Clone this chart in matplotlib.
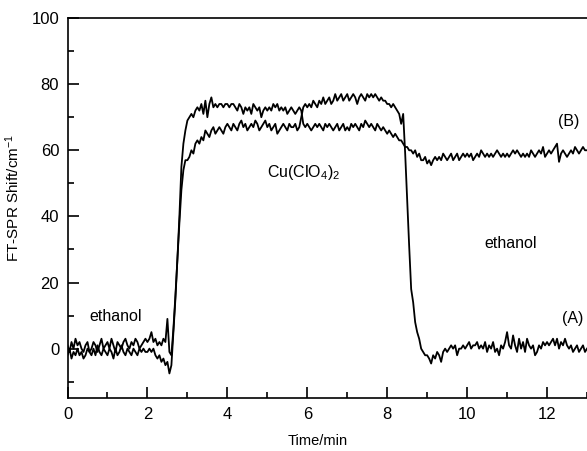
import numpy as np
import matplotlib.pyplot as plt
from matplotlib.ticker import MultipleLocator

plt.rcParams['font.family'] = ['Liberation Sans', 'DejaVu Sans']
plt.rcParams['mathtext.fontset'] = 'custom'
plt.rcParams['mathtext.rm'] = 'Liberation Sans'
plt.rcParams['mathtext.default'] = 'regular'

# time grid, one reading every 0.05 min
time_min = np.linspace(0, 13, 261)

# curve (A): back to ethanol baseline
shift_a = [
    1, -1, 2, 0, 3, 1, 2, 0, -1, 1, 2, -1, 0, 2, 1, -1, 1, 3, 0, 1,
    2, 0, 3, 1, -1, 2, 1, 0, 2, 3, 1, 0, 2, 1, 3, 2, 0, 1, 2, 3,
    2, 3, 5, 2, 3, 1, 2, 1, 3, 2, 9, -1, -2, 6, 16, 27, 38, 48, 54, 57,
    57, 58, 60, 59, 62, 63, 62, 64, 63, 66, 65, 64, 66, 67, 65, 66, 67, 66, 65, 67,
    68, 67, 66, 68, 67, 66, 68, 69, 67, 68, 66, 67, 68, 67, 69, 68, 66, 67, 68, 69,
    67, 68, 66, 67, 68, 65, 66, 67, 68, 67, 66, 68, 67, 67, 68, 66, 67, 70, 73, 74,
    73, 74, 73, 75, 74, 73, 75, 74, 76, 74, 75, 76, 74, 75, 77, 75, 76, 77, 75, 76,
    77, 75, 76, 77, 76, 74, 76, 77, 76, 75, 77, 76, 77, 76, 77, 76, 75, 76, 75, 75,
    74, 74, 73, 74, 73, 72, 71, 68, 71, 59, 45, 31, 18, 14, 8, 5, 3, 0, -1, -2,
    -2, -3, -4.5, -2, -3, -1, -2, -4, -1, 0, -1, 0, 1, 0, 1, -2, 0, 0, 1, 0,
    1, 2, 0, 1, 1, 2, 0, 1, 0, 2, -1, 1, 0, 2, -1, 0, -2, 1, 0, 2,
    5, 1, 0, 4, 1, -1, 3, 0, 2, -1, 3, 1, 0, 1, -2, -1, 1, 0, 2, 1,
    2, 1, 2, 3, 1, 3, 0, 2, 1, 3, 1, 0, 1, -1, 0, 1, -1, 0, 1, -1,
    0,
]

# curve (B): stays shifted after ethanol rinse
shift_b = [
    -2, 0, -3, -1, -2, 0, -2, -1, -3, -2, 0, -1, -2, 0, -2, 1, -1, -2, 0, -1,
    -2, 0, -1, -3, 0, -2, -1, 1, -1, -2, 0, -1, -2, 0, -1, -2, 0, -1, 0, -1,
    -1, 0, -1, 0, -2, -3, -2, -4, -3, -5, -4, -7.5, -5, 5, 15, 27, 40, 55, 62, 66,
    69, 70, 71, 70, 72, 73, 72, 74, 71, 75, 70, 74, 76, 73, 74, 73, 74, 74, 73, 74,
    74, 73, 74, 74, 73, 72, 74, 73, 71, 73, 72, 73, 71, 74, 73, 72, 73, 70, 72, 73,
    72, 73, 72, 74, 73, 74, 72, 73, 72, 73, 71, 72, 73, 72, 71, 72, 73, 72, 68, 67,
    68, 67, 66, 67, 68, 67, 68, 67, 66, 68, 67, 68, 67, 66, 67, 68, 66, 67, 68, 66,
    67, 66, 68, 67, 68, 67, 66, 68, 67, 69, 68, 67, 68, 67, 66, 68, 67, 66, 67, 66,
    65, 66, 65, 64, 65, 64, 63, 63, 62, 61, 61, 60, 60, 59, 60, 58, 59, 57, 57, 58,
    56, 57, 55.5, 57, 58, 57, 58, 57, 59, 58, 57, 58, 59, 57, 58, 59, 57, 58, 59, 58,
    59, 58, 59, 57, 58, 59, 58, 60, 59, 58, 59, 58, 59, 58, 59, 60, 59, 58, 59, 58,
    59, 58, 59, 60, 59, 60, 59, 58, 59, 58, 59, 58, 60, 59, 58, 59, 60, 59, 61, 58,
    59, 60, 59, 60, 61, 62, 56.5, 59, 60, 59, 58, 59, 60, 59, 61, 60, 59, 60, 61, 60,
    60,
]

fig = plt.figure(figsize=(5.87, 4.51), dpi=100)
ax = fig.add_axes([0.115, 0.117, 0.885, 0.843])

ax.plot(time_min, shift_a, color='black', lw=1.3)
ax.plot(time_min, shift_b, color='black', lw=1.3)

ax.set_xlim(0, 13)
ax.set_ylim(-15, 100)
ax.xaxis.set_major_locator(MultipleLocator(2))
ax.xaxis.set_minor_locator(MultipleLocator(1))
ax.yaxis.set_major_locator(MultipleLocator(20))
ax.yaxis.set_minor_locator(MultipleLocator(10))
ax.tick_params(which='both', direction='in', top=False, right=False,
               labelsize=12, width=1.2, pad=6)
ax.tick_params(which='major', length=8)
ax.tick_params(which='minor', length=4)
for side in ['left', 'bottom', 'top']:
    ax.spines[side].set_linewidth(1.2)
ax.spines['right'].set_visible(False)

ax.set_xlabel('Time/min', fontsize=10.5)
ax.set_ylabel('FT-SPR Shift/cm$^{-1}$', fontsize=11)
ax.xaxis.set_label_coords(0.482, -0.095)
ax.yaxis.set_label_coords(-0.088, 0.527)

ax.text(1.2, 9.8, 'ethanol', fontsize=11.5, ha='center', va='center')
ax.text(5.9, 53.4, 'Cu(ClO$_4$)$_2$', fontsize=11.5, ha='center', va='center')
ax.text(11.1, 31.8, 'ethanol', fontsize=11.5, ha='center', va='center')
ax.text(12.55, 68.6, '(B)', fontsize=11.5, ha='center', va='center')
ax.text(12.65, 9.2, '(A)', fontsize=11.5, ha='center', va='center')

fig.savefig('out.png', dpi=100)
